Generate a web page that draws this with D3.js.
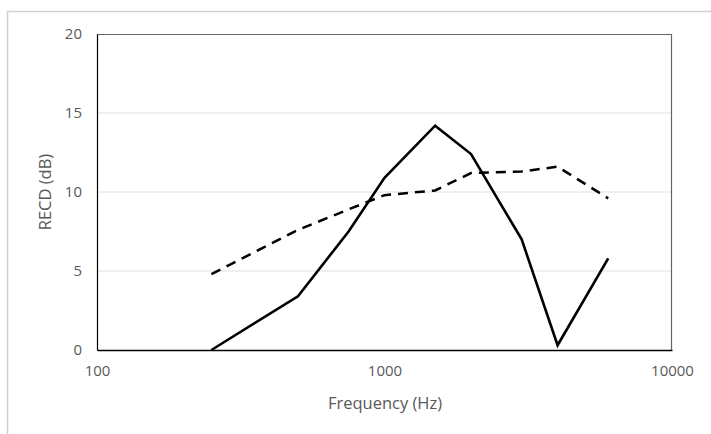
<!DOCTYPE html>
<html>
<head>
<meta charset="utf-8">
<script src="https://d3js.org/d3.v7.min.js"></script>
<style>
  body { margin: 0; background: #fff; }
  text { font-family: "Open Sans", "Liberation Sans", sans-serif; fill: #595959; }
</style>
</head>
<body>
<svg class="chart" width="711" height="434"></svg>
<script>
// frequencies (Hz) and the two RECD curves (dB)
var freqs = [250, 500, 750, 1000, 1500, 2000, 3000, 4000, 6000];
var solidVals = [0, 3.4, 7.5, 10.9, 14.2, 12.4, 7.0, 0.3, 5.8];
var dashedVals = [4.8, 7.6, 8.9, 9.8, 10.1, 11.2, 11.3, 11.6, 9.6];
var xTicks = [100, 1000, 10000];
var yTicks = [0, 5, 10, 15, 20];

var margin = {top: 34, right: 39, bottom: 84, left: 97},
    width = 711 - margin.left - margin.right,
    height = 434 - margin.top - margin.bottom;

var svg = d3.select(".chart");

// outer chart border
svg.append("rect")
  .attr("x", 7.5).attr("y", 11.5)
  .attr("width", 720).attr("height", 440)
  .attr("fill", "none")
  .attr("stroke", "#d0d0d0")
  .attr("stroke-width", 1.5);

var chart = svg.append("g")
  .attr("transform", `translate(${margin.left},${margin.top})`);

var xScale = d3.scaleLog().domain([100, 10000]).range([0, width]);
var yScale = d3.scaleLinear().domain([0, 20]).range([height, 0]);

// gridlines
chart.selectAll(".grid")
  .data(yTicks.filter(function(d) { return d > 0 && d < 20; }))
  .enter()
  .append("line")
  .attr("x1", 0).attr("x2", width)
  .attr("y1", function(d) { return yScale(d); })
  .attr("y2", function(d) { return yScale(d); })
  .attr("stroke", "#e0e0e0")
  .attr("stroke-width", 1);

// plot area border (top / right)
chart.append("path")
  .attr("d", `M0,0.5H${width - 0.5}V${height}`)
  .attr("fill", "none")
  .attr("stroke", "#666")
  .attr("stroke-width", 1.2);

var yAxis = chart.append("g")
  .call(d3.axisLeft(yScale).tickValues(yTicks).tickSize(0).tickPadding(15));
yAxis.select(".domain").attr("stroke", "#000").attr("stroke-width", 1.2);
yAxis.selectAll("text").style("font-size", "15px").attr("fill", "#595959");

var xAxis = chart.append("g")
  .attr("transform", `translate(0,${height})`)
  .call(d3.axisBottom(xScale).tickValues(xTicks).tickSize(0).tickPadding(15)
    .tickFormat(d3.format("d")));
xAxis.select(".domain").attr("stroke", "#000").attr("stroke-width", 1.4);
xAxis.selectAll("text").style("font-size", "15px").attr("fill", "#595959");

// axis titles
chart.append("text")
  .attr("x", 288)
  .attr("y", height + 59)
  .attr("text-anchor", "middle")
  .style("font-size", "16.5px")
  .text("Frequency (Hz)");

chart.append("text")
  .attr("transform", `translate(-46,${height / 2}) rotate(-90)`)
  .attr("text-anchor", "middle")
  .style("font-size", "16.5px")
  .text("RECD (dB)");

var line = d3.line()
  .x(function(d) { return xScale(d[0]); })
  .y(function(d) { return yScale(d[1]); });

chart.append("path")
  .datum(d3.zip(freqs, dashedVals))
  .attr("d", line)
  .attr("fill", "none")
  .attr("stroke", "#000")
  .attr("stroke-width", 2.5)
  .attr("stroke-dasharray", "10,7");

chart.append("path")
  .datum(d3.zip(freqs, solidVals))
  .attr("d", line)
  .attr("fill", "none")
  .attr("stroke", "#000")
  .attr("stroke-width", 2.6);
</script>
</body>
</html>
